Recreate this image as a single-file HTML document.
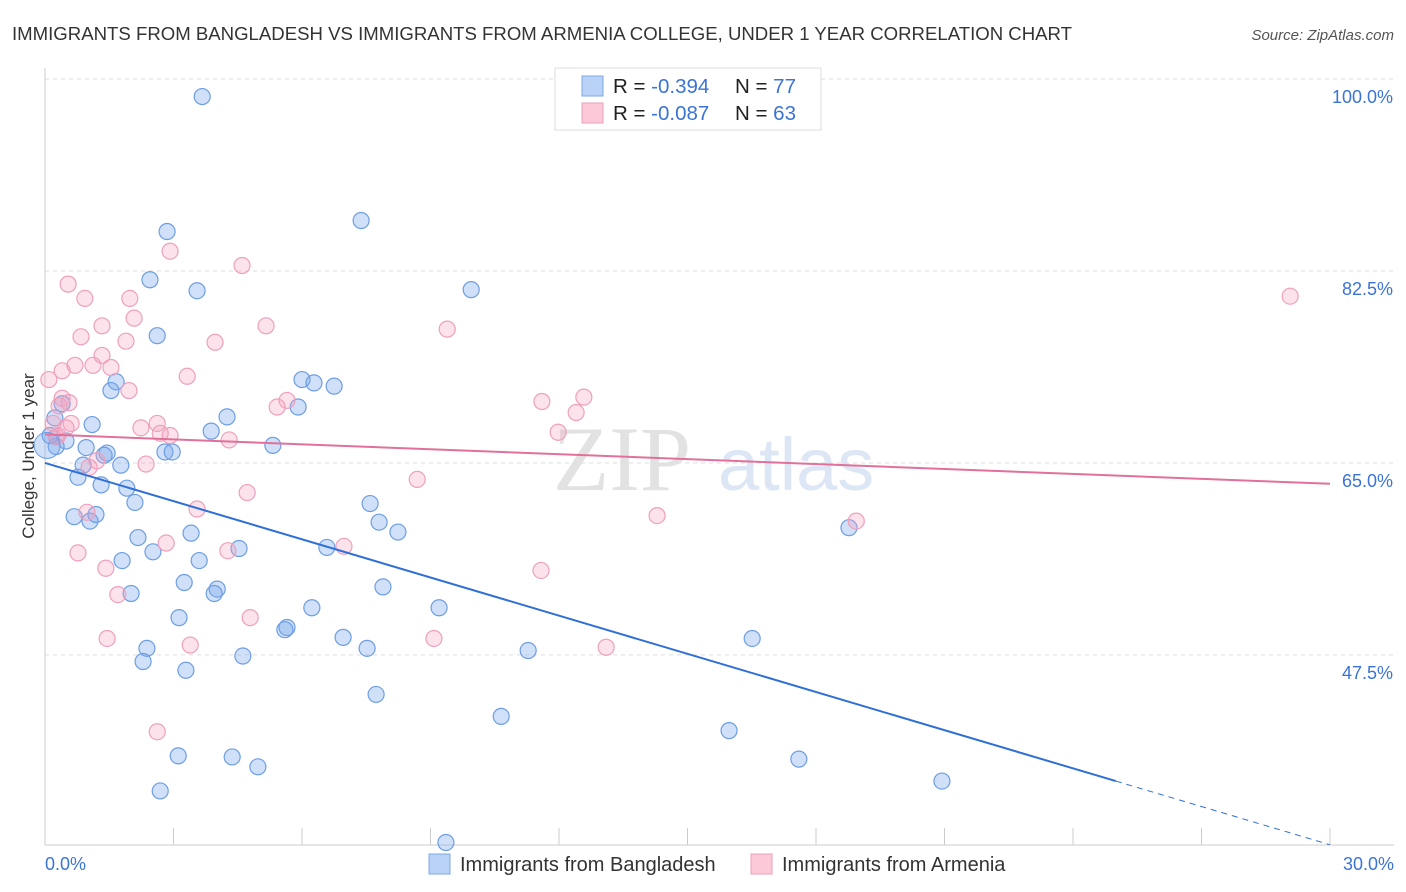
<!DOCTYPE html>
<html><head><meta charset="utf-8"><style>
body{margin:0;background:#fff;font-family:"Liberation Sans",sans-serif;}
svg{display:block}
</style></head><body>
<svg id="chart" width="1406" height="892">
<text x="12" y="40" font-size="18.6" fill="#333">IMMIGRANTS FROM BANGLADESH VS IMMIGRANTS FROM ARMENIA COLLEGE, UNDER 1 YEAR CORRELATION CHART</text>
<text x="1394" y="40" font-size="15" fill="#555" font-style="italic" text-anchor="end">Source: ZipAtlas.com</text>
<text x="0" y="0" transform="translate(34,456) rotate(-90)" font-size="17" fill="#333" text-anchor="middle">College, Under 1 year</text>
<g><text x="553" y="490" font-size="92" fill="#e2e2e2" font-family="Liberation Serif,serif">ZIP</text><text x="718" y="490" font-size="74" fill="#dce6f5">atlas</text></g>
<g id="grid"></g><g id="axes"></g><g id="pts"></g><g id="lines"></g>
<g>
<rect x="555" y="68" width="266" height="62" fill="#fff" stroke="#ddd"/>
<rect x="582" y="76" width="21" height="20" fill="#b9d2f5" stroke="#7da8e6"/>
<rect x="582" y="103" width="21" height="20" fill="#fbc9d8" stroke="#ee9fba"/>
<text x="613" y="93" font-size="20.5" fill="#222">R = <tspan fill="#3b74d6">-0.394</tspan><tspan x="735">N = </tspan><tspan fill="#3b74d6">77</tspan></text>
<text x="613" y="120" font-size="20.5" fill="#222">R = <tspan fill="#3b74d6">-0.087</tspan><tspan x="735">N = </tspan><tspan fill="#3b74d6">63</tspan></text>
</g>
<g>
<rect x="429" y="854" width="21" height="20" fill="#b9d2f5" stroke="#7da8e6"/>
<text x="460" y="871" font-size="20" fill="#333">Immigrants from Bangladesh</text>
<rect x="751" y="854" width="21" height="20" fill="#fbc9d8" stroke="#ee9fba"/>
<text x="782" y="871" font-size="20" fill="#333">Immigrants from Armenia</text>
</g>
<text x="45" y="870" font-size="18" fill="#3b74d6">0.0%</text>
<text x="1394" y="870" font-size="18" fill="#3b74d6" text-anchor="end">30.0%</text>
</svg>
<script>
const yTicks=[100,82.5,65,47.5];
const yTickLabels=["100.0%","82.5%","65.0%","47.5%"];
const blueX=[3.67,7.38,2.85,2.45,3.55,9.95,2.62,6.0,6.28,6.75,1.66,1.54,5.91,4.25,3.88,0.40,1.10,0.23,0.12,0.49,0.26,0.96,1.45,1.38,2.80,2.97,0.89,1.77,0.77,5.32,1.31,1.91,2.10,7.59,7.80,8.24,0.68,1.05,1.19,2.17,3.41,4.53,6.58,2.52,1.80,3.60,3.25,4.02,3.95,7.89,2.01,6.23,9.20,3.13,5.65,5.60,6.96,7.52,11.28,16.51,2.38,2.29,4.62,3.29,7.73,10.65,15.97,3.11,4.37,4.97,17.60,20.94,2.69,9.36,18.77];
const blueY=[98.4,87.1,86.1,81.7,80.7,80.8,76.6,72.6,72.3,72.0,72.4,71.6,70.1,69.2,67.9,70.4,68.5,69.1,67.5,67.0,66.5,66.4,65.9,65.7,66.0,66.0,64.8,64.8,63.7,66.6,63.0,62.7,61.4,61.3,59.6,58.7,60.1,59.7,60.3,58.2,58.6,57.2,57.3,56.9,56.1,56.1,54.1,53.5,53.1,53.7,53.1,51.8,51.8,50.9,50.0,49.8,49.1,48.1,47.9,49.0,48.1,46.9,47.4,46.1,43.9,41.9,40.6,38.3,38.2,37.3,38.0,36.0,35.1,30.4,59.1];
const pinkX=[2.92,4.60,0.54,0.93,1.98,2.08,1.33,5.16,9.39,0.84,1.89,3.97,1.33,0.70,1.12,1.54,0.40,0.09,3.32,1.96,0.40,0.56,0.33,5.42,5.65,11.60,12.58,12.40,11.98,2.62,2.24,2.69,2.92,0.61,0.49,0.19,0.26,4.30,1.21,1.03,2.36,4.72,8.69,3.55,0.98,14.29,18.94,2.83,6.98,4.27,0.77,1.42,11.58,1.70,4.79,1.45,3.39,9.08,13.10,2.62,29.07,0.30];
const pinkY=[84.3,83.0,81.3,80.0,80.0,78.2,77.5,77.5,77.2,76.5,76.1,76.0,74.8,73.9,73.9,73.7,73.4,72.6,72.9,71.6,70.9,70.5,70.2,70.1,70.7,70.6,71.0,69.6,67.8,68.6,68.2,67.7,67.5,68.6,68.2,68.6,67.4,67.1,65.2,64.6,64.9,62.3,63.5,60.8,60.5,60.2,59.7,57.7,57.4,57.0,56.8,55.4,55.2,53.0,50.9,49.0,48.4,49.0,48.2,40.5,80.2,67.5];
const blueTrend=[65.0,30.2];
const pinkTrend=[67.6,63.1];
const NS="http://www.w3.org/2000/svg";
const X0=45,X1=1330,Y0=79,PPY=10.97;
function sx(v){return X0+(X1-X0)*v/30;}
function sy(v){return Y0+(100-v)*PPY;}
function mk(tag,attrs,parent){const e=document.createElementNS(NS,tag);for(const k in attrs)e.setAttribute(k,attrs[k]);document.getElementById(parent).appendChild(e);return e;}
yTicks.forEach((t,i)=>{
 const l=mk('line',{x1:X0,x2:1394,y1:sy(t),y2:sy(t),stroke:'#ddd','stroke-dasharray':'4 4'},'grid');
 
 
 const tx=mk('text',{x:1393,y:sy(t)+24,'font-size':18,fill:'#3b74d6','text-anchor':'end'},'grid');
 tx.textContent=yTickLabels[i];
 
 
});
const ax=mk('line',{x1:X0,x2:X0,y1:68,y2:845,stroke:'#ccc'},'axes');


const bx=mk('line',{x1:X0,x2:1394,y1:845,y2:845,stroke:'#ccc'},'axes');


for(let i=0;i<=10;i++){const t=mk('line',{x1:sx(i*3),x2:sx(i*3),y1:828,y2:845,stroke:'#ccc'},'axes');
 
 }
function dots(xs,ys,fill,stroke,name){xs.forEach((x,i)=>{const c=mk('circle',{cx:sx(x),cy:sy(ys[i]),r:8,fill:fill,stroke:stroke,'stroke-width':1.2},'pts');
 
 });}
dots(blueX,blueY,'rgba(120,165,235,0.35)','#6d9ee4','point-bangladesh');
dots(pinkX,pinkY,'rgba(245,160,190,0.3)','#eea0bc','point-armenia');
const big=mk('circle',{cx:sx(0.05),cy:sy(66.6),r:13,fill:'rgba(120,165,235,0.35)',stroke:'#6d9ee4'},'pts');


const xs=25;const ye=blueTrend[0]+(blueTrend[1]-blueTrend[0])*xs/30;
const b1=mk('line',{x1:sx(0),y1:sy(blueTrend[0]),x2:sx(xs),y2:sy(ye),stroke:'#2f6fd6','stroke-width':2},'lines');


const b2=mk('line',{x1:sx(xs),y1:sy(ye),x2:sx(30),y2:sy(blueTrend[1]),stroke:'#2f6fd6','stroke-width':1,'stroke-dasharray':'6 5'},'lines');


const p1=mk('line',{x1:sx(0),y1:sy(pinkTrend[0]),x2:sx(30),y2:sy(pinkTrend[1]),stroke:'#e2709a','stroke-width':2},'lines');


</script>
</body></html>
